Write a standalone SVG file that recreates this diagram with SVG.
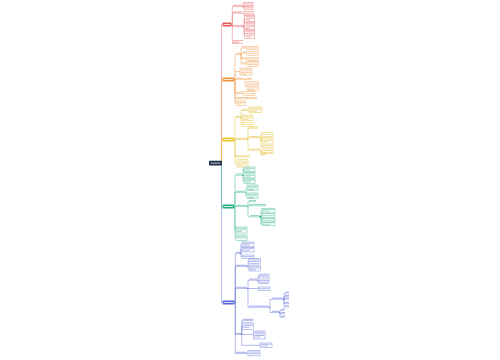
<svg xmlns="http://www.w3.org/2000/svg" width="500" height="360" viewBox="0 0 500 360">
<style>
.c path{fill:none;stroke-width:.45}
.r{stroke:#e65c5c}.o{stroke:#ef9440}.y{stroke:#e2b91c}.g{stroke:#27b07f}.b{stroke:#5868d6}
.t{stroke-width:.9;opacity:.6;fill:none}
.u{stroke-width:.4;fill:none}
.bx{fill:#fff;stroke-width:.4}
.bt{stroke-width:.75;opacity:.6;fill:none}
.wt{stroke:#fff;stroke-width:.9;opacity:.85;fill:none}
</style>
<rect width="500" height="360" fill="#fff"/>
<g id="connectors" class="c">
<path class="r" d="M221.5 163V24.5H222.5"/>
<path class="o" d="M221.5 163V79.5H222.5"/>
<path class="y" d="M221.5 163V139.5H222.5"/>
<path class="b" d="M221.5 163V302.5H222.5"/>
<path class="g" d="M221.5 163V206.5H222.5"/>
<path class="r" d="M231.5 24.5H232.3V6.5H233M231.5 24.5H232.3V13.2H233M231.5 24.5H232.3V26.8H233M231.5 24.5H232.3V43.5H233M242 6.5H243.2V3.9H244M242 6.5H243.2V7.9H244M242 13.2H244M243 26.8H244V18.4H244.8M243 26.8H244V26H244.8M243 26.8H244V34.5H244.8"/>
<path class="o" d="M234 79.5H235V54.5H236M234 79.5H235V71.5H240M234 79.5H236M234 79.5H235V93.8H236M234 79.5H235V98.8H236M234 79.5H235V103.1H236M240 54.5H241V48H242M240 54.5H241V53.3H242M240 54.5H241V59H242M240 54.5H241V64H242M246 48H246.8M246 53.3H246.8M246 59H246.8M246 64H246.8M244 79.5H246M244 79.5H245V86H247M242 93.8H243"/>
<path class="y" d="M234 139.5H235V117.5H236M234 139.5H236M234 139.5H235V157H236M234 139.5H235V163.4H237M240 117.5H241V110.5H242M240 117.5H241V117.7H242M240 117.5H241V124.5H242M248.5 110.5H249M247 139.5H248V128.3H249M247 139.5H248V137.8H249M247 139.5H248V150.3H249M260 137.8H261V134.4H262M260 137.8H261V140.8H262M260 137.8H261V147.2H262M260 150.3H261V152.3H262M260 150.3H261V155H262"/>
<path class="g" d="M234 206.5H235V175.3H236M234 206.5H235V192.5H236M234 206.5H236M234 206.5H235V230H236M234 206.5H235V237.6H236M242 175.3H243V169.25H244M242 175.3H244M242 175.3H243V181.3H244M245 192.5H246V187.75H247M245 192.5H246V195.75H247M247 206.5H248V201.8H249M247 206.5H248V205.8H249M247 206.5H248V216.8H250M259 216.8H261V210.65H262M259 216.8H261V215.7H262M259 216.8H261V220.2H262M259 216.8H261V224.2H262"/>
<path class="b" d="M234.5 302.5H235.3V253.5H236M234.5 302.5H235.3V266.5H236M234.5 302.5H235.3V288.5H236M234.5 302.5H235.3V334.5H236M234.5 302.5H235.3V353.5H236M240 253.5H241V244.3H242M240 253.5H241V249.7H242M240 253.5H241V256.6H242M247 266.5H248V261.1H249M247 266.5H248V268H249M247 288.5H248V280.3H249M247 288.5H258.5M247 288.5H248V307.3H249M257 280.3H258V276.5H259M257 280.3H258V282.1H259M268 307.3H270V299.3H272M268 307.3H270V312.5H272M283 299.3H284V293.3H285M283 299.3H284V296.7H285M283 299.3H285M283 299.3H284V303.6H285M283 299.3H284V307H285M279 312.5H280V310.3H281M279 312.5H280V313.8H281M279 312.5H280V317.3H281M241 334.5H241.8V320.5H242.5M241 334.5H241.8V326H242.5M241 334.5H253.5M241 334.5H241.8V345.3H260M247 353.5H248"/>
</g>
<g id="root"><rect x="209" y="160.8" width="13" height="4.6" rx=".4" fill="#1f2c47"/><path class="wt" d="M210.5 163.1h10"/></g>
<g id="branch-red"><rect x="222.5" y="22.5" width="9" height="4" rx=".4" fill="#e65c5c"/><path class="wt" d="M223.5 24.5h7"/></g>
<g id="branch-orange"><rect x="222.5" y="77.5" width="11.5" height="4" rx=".4" fill="#ef9440"/><path class="wt" d="M223.5 79.5h9.5"/></g>
<g id="branch-yellow"><rect x="222.5" y="137.5" width="11.5" height="4" rx=".4" fill="#f0c52a"/><path class="wt" d="M223.5 139.5h9.5"/></g>
<g id="branch-green"><rect x="222.5" y="204.5" width="11.5" height="4" rx=".4" fill="#27b07f"/><path class="wt" d="M223.5 206.5h9.5"/></g>
<g id="branch-blue"><rect x="222.5" y="300.5" width="12" height="4" rx=".4" fill="#5868d6"/><path class="wt" d="M223.5 302.5h10"/></g>

<g id="r-a" class="r"><path class="t" d="M233 5.3h9"/><path class="u" d="M233 6.5h9"/></g>
<g id="r-a1" class="r"><rect class="bx" x="244" y="2.3" width="9" height="3.2"/><path class="bt" d="M244.8 3.9h7.4"/></g>
<g id="r-a2" class="r"><rect class="bx" x="244" y="6.3" width="9" height="3.2"/><path class="bt" d="M244.8 7.9h7.4"/></g>
<g id="r-b" class="r"><path class="t" d="M233 12h9"/><path class="u" d="M233 13.2h9"/></g>
<g id="r-b1" class="r"><rect class="bx" x="244" y="11.5" width="9.5" height="3.4"/><path class="bt" d="M244.8 13.2h7.9"/></g>
<g id="r-c" class="r"><path class="t" d="M233 25.6h10"/><path class="u" d="M233 26.8h10"/></g>
<g id="r-c1" class="r"><rect class="bx" x="244.8" y="15.3" width="10" height="6.2"/><path class="bt" d="M245.6 16.6h8.4M245.6 18.2h8.4M245.6 19.8h5"/></g>
<g id="r-c2" class="r"><rect class="bx" x="244.8" y="22.5" width="10" height="7"/><path class="bt" d="M245.6 23.8h8.4M245.6 25.4h8.4M245.6 27h8.4M245.6 28.6h4"/></g>
<g id="r-c3" class="r"><rect class="bx" x="244.8" y="30.5" width="10" height="8"/><path class="bt" d="M245.6 31.8h8.4M245.6 33.4h8.4M245.6 35h8.4M245.6 36.6h6"/></g>
<g id="r-d" class="r"><path class="t" d="M233 40.7h10M233 42.3h6"/><path class="u" d="M233 43.5h10"/></g>

<g id="o-a" class="o"><path class="t" d="M236 53.3h4"/><path class="u" d="M236 54.5h4"/></g>
<g id="o-a1" class="o"><path class="t" d="M242 46.8h4"/><path class="u" d="M242 48h4"/><rect class="bx" x="246.8" y="46.3" width="11.5" height="3.4"/><path class="bt" d="M247.6 48h9.9"/></g>
<g id="o-a2" class="o"><path class="t" d="M242 52.1h4"/><path class="u" d="M242 53.3h4"/><rect class="bx" x="246.8" y="51.5" width="11.5" height="3.6"/><path class="bt" d="M247.6 53.3h9.9"/></g>
<g id="o-a3" class="o"><path class="t" d="M242 57.8h4"/><path class="u" d="M242 59h4"/><rect class="bx" x="246.8" y="57.3" width="11.5" height="3.4"/><path class="bt" d="M247.6 59h9.9"/></g>
<g id="o-a4" class="o"><path class="t" d="M242 62.8h4"/><path class="u" d="M242 64h4"/><rect class="bx" x="246.8" y="61.5" width="11.5" height="5"/><path class="bt" d="M247.6 62.9h9.9M247.6 64.5h9.9"/></g>
<g id="o-b" class="o"><rect class="bx" x="240" y="68" width="12" height="7"/><path class="bt" d="M240.8 69.3h10.4M240.8 70.9h10.4M240.8 72.5h10.4M240.8 74.1h6"/></g>
<g id="o-c" class="o"><path class="t" d="M236 78.3h8"/><path class="u" d="M236 79.5h8"/></g>
<g id="o-c1" class="o"><path class="t" d="M246 78.3h6"/><path class="u" d="M246 79.5h6"/></g>
<g id="o-c2" class="o"><rect class="bx" x="247" y="81.8" width="11.5" height="8.5"/><path class="bt" d="M247.8 83.1h9.9M247.8 84.7h9.9M247.8 86.3h9.9M247.8 87.9h9.9M247.8 89.5h6"/></g>
<g id="o-d" class="o"><path class="t" d="M236 92.6h6"/><path class="u" d="M236 93.8h6"/><rect class="bx" x="243" y="91.8" width="12" height="3.5"/><path class="bt" d="M243.8 93.55h10.4"/></g>
<g id="o-e" class="o"><path class="t" d="M236 97.6h21"/><path class="u" d="M236 98.8h21"/></g>
<g id="o-f" class="o"><rect class="bx" x="236" y="101" width="9.5" height="4.2"/><path class="bt" d="M236.8 102.3h7.9M236.8 103.9h5"/></g>

<g id="y-a" class="y"><path class="t" d="M236 116.3h4"/><path class="u" d="M236 117.5h4"/></g>
<g id="y-a1" class="y"><path class="t" d="M242 109.3h6.5"/><path class="u" d="M242 110.5h6.5"/><rect class="bx" x="249" y="107" width="13" height="5.3"/><path class="bt" d="M249.8 108.3h11.4M249.8 109.9h11.4M249.8 111.5h7"/></g>
<g id="y-a2" class="y"><rect class="bx" x="242" y="115" width="11" height="5.5"/><path class="bt" d="M242.8 116.3h9.4M242.8 117.9h9.4M242.8 119.5h6"/></g>
<g id="y-a3" class="y"><rect class="bx" x="242" y="122.8" width="11" height="3.4"/><path class="bt" d="M242.8 124.5h9.4"/></g>
<g id="y-b" class="y"><path class="t" d="M236 138.3h11"/><path class="u" d="M236 139.5h11"/></g>
<g id="y-b1" class="y"><path class="t" d="M249 127.1h9"/><path class="u" d="M249 128.3h9"/></g>
<g id="y-b2" class="y"><path class="t" d="M249 136.6h11"/><path class="u" d="M249 137.8h11"/></g>
<g id="y-b2a" class="y"><rect class="bx" x="262" y="132.6" width="11" height="3.6"/><path class="bt" d="M262.8 134.4h9.4"/></g>
<g id="y-b2b" class="y"><rect class="bx" x="262" y="137.6" width="11" height="6.4"/><path class="bt" d="M262.8 138.9h9.4M262.8 140.5h9.4M262.8 142.1h6"/></g>
<g id="y-b2c" class="y"><rect class="bx" x="262" y="145.4" width="11" height="3.6"/><path class="bt" d="M262.8 147.2h9.4"/></g>
<g id="y-b3" class="y"><path class="t" d="M249 149.1h11"/><path class="u" d="M249 150.3h11"/></g>
<g id="y-b3a" class="y"><rect class="bx" x="262" y="150.8" width="11" height="3"/><path class="bt" d="M262.8 152.3h9.4"/></g>
<g id="y-b3b" class="y"><path class="t" d="M262 153.8h4"/><path class="u" d="M262 155h4"/></g>
<g id="y-c" class="y"><path class="t" d="M236 155.8h14"/><path class="u" d="M236 157h14"/></g>
<g id="y-c1" class="y"><rect class="bx" x="237" y="159.8" width="11" height="7.2"/><path class="bt" d="M237.8 161.1h9.4M237.8 162.7h9.4M237.8 164.3h9.4M237.8 165.9h5"/></g>

<g id="g-a" class="g"><path class="t" d="M236 174.1h6"/><path class="u" d="M236 175.3h6"/></g>
<g id="g-a1" class="g"><rect class="bx" x="244" y="167" width="11" height="4.5"/><path class="bt" d="M244.8 168.3h9.4M244.8 169.9h6"/></g>
<g id="g-a2" class="g"><rect class="bx" x="244" y="172.5" width="11" height="5.6"/><path class="bt" d="M244.8 173.8h9.4M244.8 175.4h9.4M244.8 177h6"/></g>
<g id="g-a3" class="g"><rect class="bx" x="244" y="179" width="11" height="4.6"/><path class="bt" d="M244.8 180.3h9.4M244.8 181.9h6"/></g>
<g id="g-b" class="g"><path class="t" d="M236 191.3h9"/><path class="u" d="M236 192.5h9"/></g>
<g id="g-b1" class="g"><rect class="bx" x="247" y="185" width="11" height="5.5"/><path class="bt" d="M247.8 186.3h9.4M247.8 187.9h9.4M247.8 189.5h6"/></g>
<g id="g-b2" class="g"><rect class="bx" x="247" y="193" width="11" height="5.5"/><path class="bt" d="M247.8 194.3h9.4M247.8 195.9h9.4M247.8 197.5h6"/></g>
<g id="g-c" class="g"><path class="t" d="M236 205.3h11"/><path class="u" d="M236 206.5h11"/></g>
<g id="g-c1" class="g"><path class="t" d="M249 200.6h7"/><path class="u" d="M249 201.8h7"/></g>
<g id="g-c2" class="g"><path class="t" d="M249 204.6h17"/><path class="u" d="M249 205.8h17"/></g>
<g id="g-c3" class="g"><path class="t" d="M250 215.6h9"/><path class="u" d="M250 216.8h9"/></g>
<g id="g-c3a" class="g"><rect class="bx" x="262" y="208.3" width="13" height="4.7"/><path class="bt" d="M262.8 209.6h11.4M262.8 211.2h7"/></g>
<g id="g-c3b" class="g"><rect class="bx" x="262" y="213.8" width="13" height="3.8"/><path class="bt" d="M262.8 215.7h11.4"/></g>
<g id="g-c3c" class="g"><rect class="bx" x="262" y="218.4" width="13" height="3.6"/><path class="bt" d="M262.8 220.2h11.4"/></g>
<g id="g-c3d" class="g"><rect class="bx" x="262" y="222.8" width="13" height="2.8"/><path class="bt" d="M262.8 224.2h8"/></g>
<g id="g-d" class="g"><rect class="bx" x="236" y="227" width="11" height="6"/><path class="bt" d="M236.8 228.3h9.4M236.8 229.9h9.4M236.8 231.5h5"/></g>
<g id="g-e" class="g"><rect class="bx" x="236" y="235" width="11" height="5.2"/><path class="bt" d="M236.8 236.3h9.4M236.8 237.9h9.4"/></g>

<g id="b-a" class="b"><path class="t" d="M236 252.3h4"/><path class="u" d="M236 253.5h4"/></g>
<g id="b-a1" class="b"><rect class="bx" x="242" y="242" width="12" height="4.6"/><path class="bt" d="M242.8 243.3h10.4M242.8 244.9h7"/></g>
<g id="b-a2" class="b"><rect class="bx" x="242" y="247.4" width="12" height="4.6"/><path class="bt" d="M242.8 248.7h10.4M242.8 250.3h7"/></g>
<g id="b-a3" class="b"><rect class="bx" x="242" y="255" width="12" height="3.2"/><path class="bt" d="M242.8 256.6h10.4"/></g>
<g id="b-b" class="b"><path class="t" d="M236 265.3h11"/><path class="u" d="M236 266.5h11"/></g>
<g id="b-b1" class="b"><rect class="bx" x="249" y="258.6" width="11.5" height="5"/><path class="bt" d="M249.8 259.9h9.9M249.8 261.5h9.9"/></g>
<g id="b-b2" class="b"><rect class="bx" x="249" y="265" width="11.5" height="6"/><path class="bt" d="M249.8 266.3h9.9M249.8 267.9h9.9M249.8 269.5h6"/></g>
<g id="b-c" class="b"><path class="t" d="M236 287.3h11"/><path class="u" d="M236 288.5h11"/></g>
<g id="b-c1" class="b"><path class="t" d="M249 279.1h8"/><path class="u" d="M249 280.3h8"/></g>
<g id="b-c1a" class="b"><rect class="bx" x="259" y="274" width="10" height="5"/><path class="bt" d="M259.8 275.3h8.4M259.8 276.9h8.4"/></g>
<g id="b-c1b" class="b"><rect class="bx" x="259" y="280.6" width="10" height="3"/><path class="bt" d="M259.8 282.1h8.4"/></g>
<g id="b-c2" class="b"><rect class="bx" x="258.5" y="287" width="11.5" height="3.2"/><path class="bt" d="M259.3 288.6h9.9"/></g>
<g id="b-c3" class="b"><path class="t" d="M249 306.1h19"/><path class="u" d="M249 307.3h19"/></g>
<g id="b-c3a" class="b"><path class="t" d="M272 298.1h11"/><path class="u" d="M272 299.3h11"/></g>
<g id="b-c3a1" class="b"><path class="t" d="M285 292.1h4"/><path class="u" d="M285 293.3h4"/></g>
<g id="b-c3a2" class="b"><path class="t" d="M285 295.5h4"/><path class="u" d="M285 296.7h4"/></g>
<g id="b-c3a3" class="b"><path class="t" d="M285 298.1h4"/><path class="u" d="M285 299.3h4"/></g>
<g id="b-c3a4" class="b"><path class="t" d="M285 302.4h4"/><path class="u" d="M285 303.6h4"/></g>
<g id="b-c3a5" class="b"><path class="t" d="M285 305.8h4"/><path class="u" d="M285 307h4"/></g>
<g id="b-c3b" class="b"><path class="t" d="M272 311.3h7"/><path class="u" d="M272 312.5h7"/></g>
<g id="b-c3b1" class="b"><path class="t" d="M281 309.1h4"/><path class="u" d="M281 310.3h4"/></g>
<g id="b-c3b2" class="b"><path class="t" d="M281 312.6h4"/><path class="u" d="M281 313.8h4"/></g>
<g id="b-c3b3" class="b"><path class="t" d="M281 316.1h4"/><path class="u" d="M281 317.3h4"/></g>
<g id="b-d" class="b"><path class="t" d="M236 333.3h5"/><path class="u" d="M236 334.5h5"/></g>
<g id="b-d1" class="b"><path class="t" d="M242.5 319.3h11"/><path class="u" d="M242.5 320.5h11"/></g>
<g id="b-d1b" class="b"><rect class="bx" x="242.5" y="322.8" width="11" height="6.4"/><path class="bt" d="M243.3 324.1h9.4M243.3 325.7h9.4M243.3 327.3h6"/></g>
<g id="b-d2" class="b"><rect class="bx" x="253.5" y="331" width="11.5" height="8"/><path class="bt" d="M254.3 332.3h9.9M254.3 333.9h9.9M254.3 335.5h9.9M254.3 337.1h6"/></g>
<g id="b-d3" class="b"><rect class="bx" x="260" y="343" width="12" height="4.5"/><path class="bt" d="M260.8 344.3h10.4M260.8 345.9h7"/></g>
<g id="b-e" class="b"><path class="t" d="M236 352.3h11"/><path class="u" d="M236 353.5h11"/></g>
<g id="b-e1" class="b"><rect class="bx" x="248" y="350.7" width="12" height="5.2"/><path class="bt" d="M248.8 352h10.4M248.8 353.6h10.4"/></g>
</svg>
